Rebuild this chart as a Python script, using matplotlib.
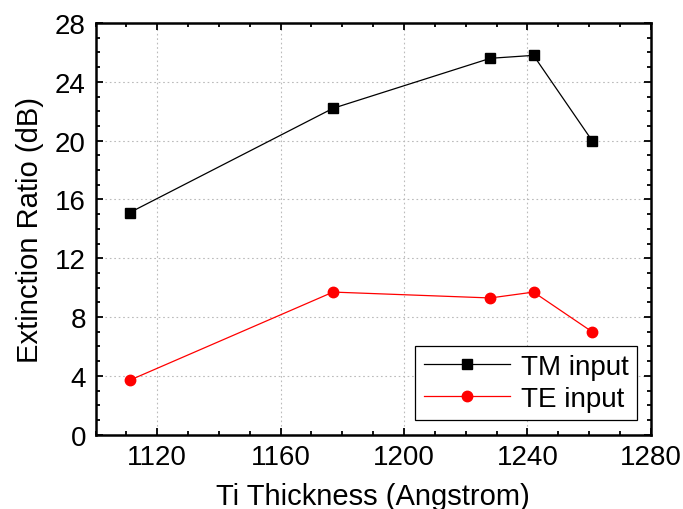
import numpy as np
import matplotlib.pyplot as plt
from matplotlib.ticker import MultipleLocator

plt.rcParams['font.family'] = ['Liberation Sans', 'DejaVu Sans']

# Ti thickness (Angstrom) and extinction ratios (dB)
thickness = [1111, 1177, 1228, 1242, 1261]
tm_input = [15.1, 22.2, 25.6, 25.8, 20.0]
te_input = [3.7, 9.7, 9.3, 9.7, 7.0]

fig = plt.figure(figsize=(6.83, 5.10), dpi=100)
ax = fig.add_axes([0.140, 0.1457, 0.8127, 0.8072])

ax.plot(thickness, tm_input, color="black", lw=0.9, marker="s", ms=6.5,
        mec="black", mfc="black", label="TM input")
ax.plot(thickness, te_input, color="red", lw=0.9, marker="o", ms=7.5,
        mec="red", mfc="red", label="TE input")

ax.set_xlim(1100, 1280)
ax.set_ylim(0, 28)
ax.xaxis.set_major_locator(MultipleLocator(40))
ax.xaxis.set_minor_locator(MultipleLocator(10))
ax.yaxis.set_major_locator(MultipleLocator(4))
ax.yaxis.set_minor_locator(MultipleLocator(1))

ax.grid(True, which="major", color="#bbbbbb", linestyle=(0, (1.5, 2.5)), lw=0.8)
ax.tick_params(which="both", direction="in", top=True, right=True,
               labelsize=20, width=1.3, pad=7)
ax.tick_params(which="major", length=5)
ax.tick_params(which="minor", length=3)
for s in ax.spines.values():
    s.set_linewidth(1.8)

ax.set_xlabel("Ti Thickness (Angstrom)", fontsize=21, labelpad=8)
ax.set_ylabel("Extinction Ratio (dB)", fontsize=21, labelpad=8)

leg = ax.legend(loc="lower right", bbox_to_anchor=(0.975, 0.036), fontsize=20,
                fancybox=False, edgecolor="black", framealpha=1,
                handlelength=3.1, handletextpad=0.4, borderpad=0.3,
                labelspacing=0.2, borderaxespad=0)
leg.get_frame().set_linewidth(0.9)

fig.savefig("out.png", dpi=100)
